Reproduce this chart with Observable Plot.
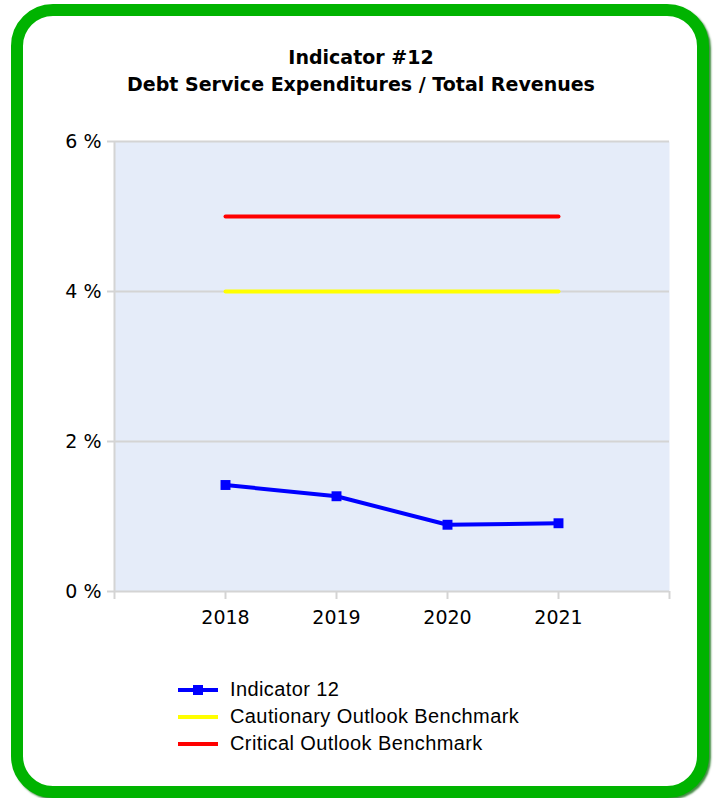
<!DOCTYPE html>
<html>
<head>
<meta charset="utf-8">
<script src="https://cdn.jsdelivr.net/npm/d3@7"></script>
<script src="https://cdn.jsdelivr.net/npm/@observablehq/plot@0.6"></script>
<style>
  html, body { margin: 0; padding: 0; background: #fff; }
  #wrap { position: relative; width: 718px; height: 798px; overflow: hidden; }
  #frame { position: absolute; left: 11px; top: 4px; width: 698px; height: 794px; box-sizing: border-box;
           border: 12.5px solid #00b300; border-radius: 42px; box-shadow: 2px 2px 2px rgba(20,110,20,0.8); background: #fff; }
  #title { position: absolute; left: 0; width: 722px; top: 44px; text-align: center;
           font-family: "DejaVu Sans", Verdana, sans-serif; font-weight: bold; font-size: 19px; line-height: 27px; color: #000; }
  #chart { position: absolute; left: 0; top: 100px; }
  #legend { position: absolute; left: 178px; top: 676px; font-family: "Liberation Sans", Arial, sans-serif; font-size: 20px; letter-spacing: 0.4px; color: #000; }
  .row { height: 27px; display: flex; align-items: center; }
  .row svg { margin-right: 12px; }
</style>
</head>
<body>
<div id="wrap">
  <div id="frame"></div>
  <div id="title">Indicator #12<br>Debt Service Expenditures / Total Revenues</div>
  <div id="chart"></div>
  <div id="legend"></div>
</div>
<script>
const years = [2018, 2019, 2020, 2021];
const indicator = [1.42, 1.27, 0.89, 0.91];
const cautionary = [4, 4, 4, 4];
const critical = [5, 5, 5, 5];
const yTicks = [0, 2, 4, 6];
const xTicks = [2017, 2018, 2019, 2020, 2021, 2022];
const seriesNames = ["Indicator 12", "Cautionary Outlook Benchmark", "Critical Outlook Benchmark"];
const seriesColors = ["#0000ff", "#ffff00", "#ff0000"];

const rows = (vals) => years.map((y, i) => ({year: y, value: vals[i]}));
const gray = "#d4d4d4";

const plot = Plot.plot({
  width: 718,
  height: 560,
  marginLeft: 114,
  marginRight: 49,
  marginTop: 41,
  marginBottom: 69,
  style: {fontFamily: "'DejaVu Sans', Verdana, sans-serif", fontSize: "19px", color: "#000", background: "transparent"},
  x: {domain: [2017, 2022]},
  y: {domain: [0, 6]},
  marks: [
    Plot.frame({fill: "#e5ecf9", stroke: null}),
    Plot.gridY(yTicks.filter(d => d > 0), {stroke: gray, strokeOpacity: 1, strokeWidth: 2}),
    Plot.ruleY([0], {stroke: gray, strokeWidth: 2}),
    Plot.ruleX([2017], {stroke: gray, strokeWidth: 2}),
    Plot.axisY(yTicks, {tickSize: 7, tickPadding: 6, stroke: gray, strokeWidth: 2, strokeOpacity: 1, tickFormat: d => d + " %", label: null, fill: "#000"}),
    Plot.axisX(xTicks, {tickSize: 8, tickPadding: 11, stroke: gray, strokeWidth: 2, strokeOpacity: 1, tickFormat: d => (d === 2017 || d === 2022) ? "" : String(d), label: null, fill: "#000"}),
    Plot.lineY(rows(critical), {x: "year", y: "value", stroke: seriesColors[2], strokeWidth: 4}),
    Plot.lineY(rows(cautionary), {x: "year", y: "value", stroke: seriesColors[1], strokeWidth: 4}),
    Plot.lineY(rows(indicator), {x: "year", y: "value", stroke: seriesColors[0], strokeWidth: 4}),
    Plot.dot(rows(indicator), {x: "year", y: "value", symbol: "square", r: 5.6, fill: seriesColors[0], stroke: null})
  ]
});
document.getElementById("chart").appendChild(plot);

const legend = document.getElementById("legend");
seriesNames.forEach((name, i) => {
  const row = document.createElement("div");
  row.className = "row";
  const marker = i === 0 ? `<rect x="15" y="5" width="10" height="10" fill="${seriesColors[i]}"/>` : "";
  row.innerHTML = `<svg width="40" height="20"><line x1="0" x2="40" y1="10" y2="10" stroke="${seriesColors[i]}" stroke-width="4"/>${marker}</svg><span>${name}</span>`;
  legend.appendChild(row);
});
</script>
</body>
</html>
